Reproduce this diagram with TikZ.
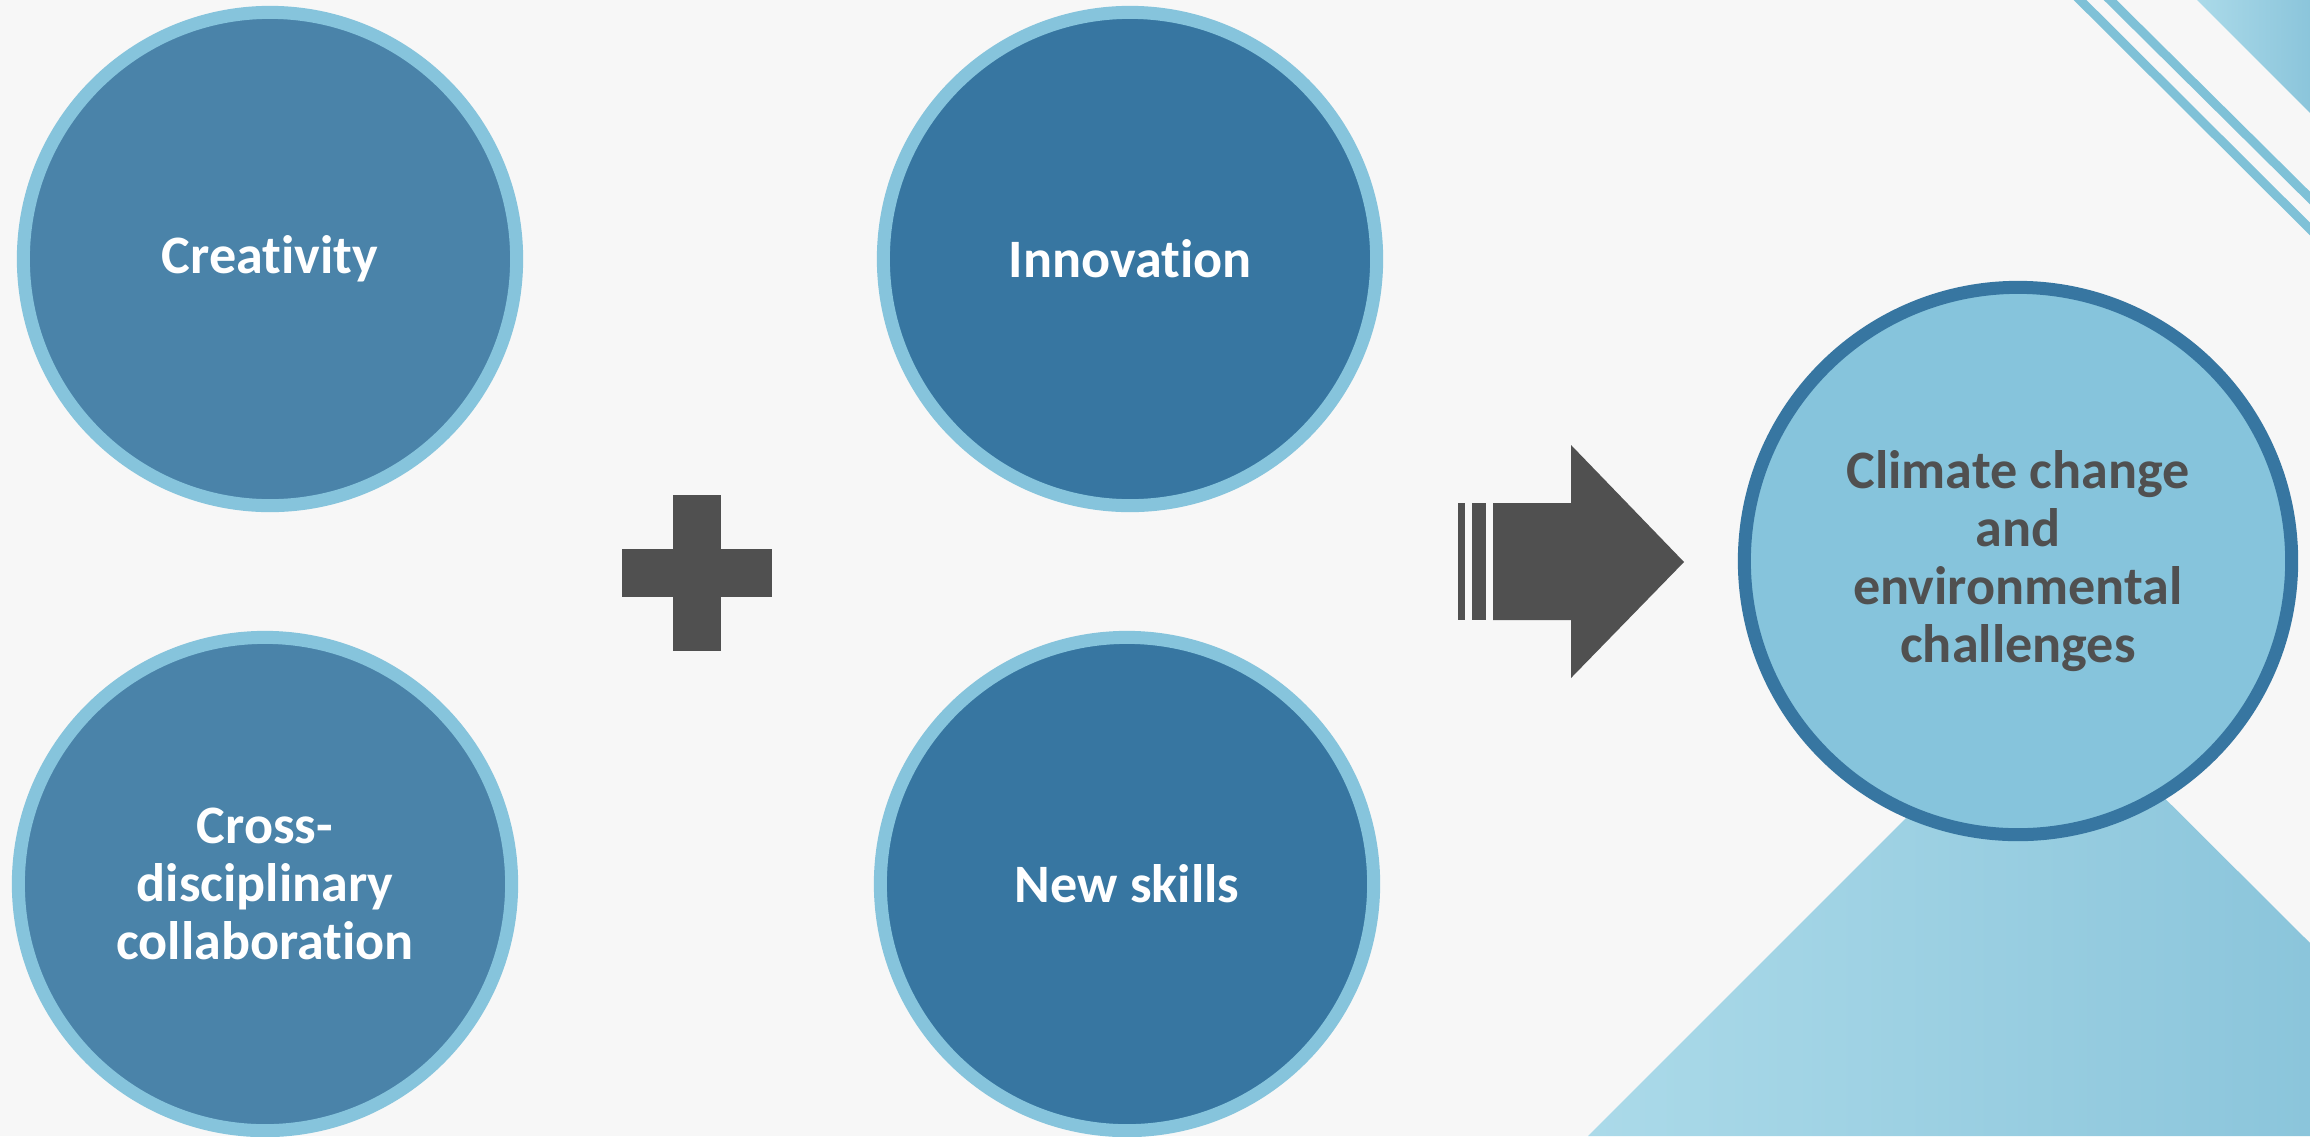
\documentclass[tikz,border=0pt]{standalone}
\usepackage{fontspec}
\setmainfont{Carlito}[Ligatures=NoCommon]
\definecolor{bgcol}{HTML}{F7F7F7}
\definecolor{ringcol}{HTML}{86C4DC}
\definecolor{bluecol}{HTML}{4A83A9}
\definecolor{darkblue}{HTML}{3776A1}
\definecolor{greycol}{HTML}{505050}
\definecolor{palecol}{HTML}{ABDAE9}
\definecolor{deepcol}{HTML}{8BC5DB}
\tikzset{
  bubble/.style={circle,draw=ringcol,line width=0.13cm,minimum size=4.93cm,
    text=white,align=center,font=\bfseries\fontsize{15.4pt}{16.5pt}\selectfont},
  goal/.style={circle,draw=darkblue,fill=ringcol,line width=0.13cm,minimum size=5.47cm,
    text=greycol,align=center,font=\bfseries\fontsize{15.4pt}{16.5pt}\selectfont}
}
\begin{document}
\begin{tikzpicture}[x=0.01cm,y=-0.01cm]
    %background
    \fill[bgcol] (0,0) rectangle (2310,1136);
    \useasboundingbox (0,0) rectangle (2310,1136);
    \begin{scope}
    \clip (0,0) rectangle (2310,1136);
    \shade[left color=palecol,right color=deepcol] (2197,0) -- (2310,0) -- (2310,113) -- cycle;
    \draw[ringcol!95!teal,line width=0.09cm] (2070,-10) -- (2320,239);
    \draw[ringcol!95!teal,line width=0.09cm] (2100,-10) -- (2320,208);
    \shade[left color=palecol,right color=deepcol] (1588,1136) -- (2045,679) -- (2310,943) -- (2310,1136) -- cycle;
    \end{scope}
    %draw circles
    \node[bubble,fill=bluecol] (creativity) at (270,259) {Creativity};
    \node[bubble,fill=bluecol] (cross) at (265,884) {Cross-\\disciplinary\\collaboration};
    \node[bubble,fill=darkblue] (innovation) at (1130,259) {Innovation};
    \node[bubble,fill=darkblue] (skills) at (1127,884) {New skills};
    \node[goal] (climate) at (2018,561) {Climate change\\and\\environmental\\challenges};
    %plus sign
    \fill[greycol] (673,495) rectangle (721,651);
    \fill[greycol] (622,549) rectangle (772,597);
    %arrow
    \fill[greycol] (1458,503) rectangle (1465,620);
    \fill[greycol] (1472,503) rectangle (1486,620);
    \fill[greycol] (1493,503) -- (1571,503) -- (1571,445) -- (1684,562) -- (1571,678) -- (1571,620) -- (1493,620) -- cycle;
\end{tikzpicture}
\end{document}
